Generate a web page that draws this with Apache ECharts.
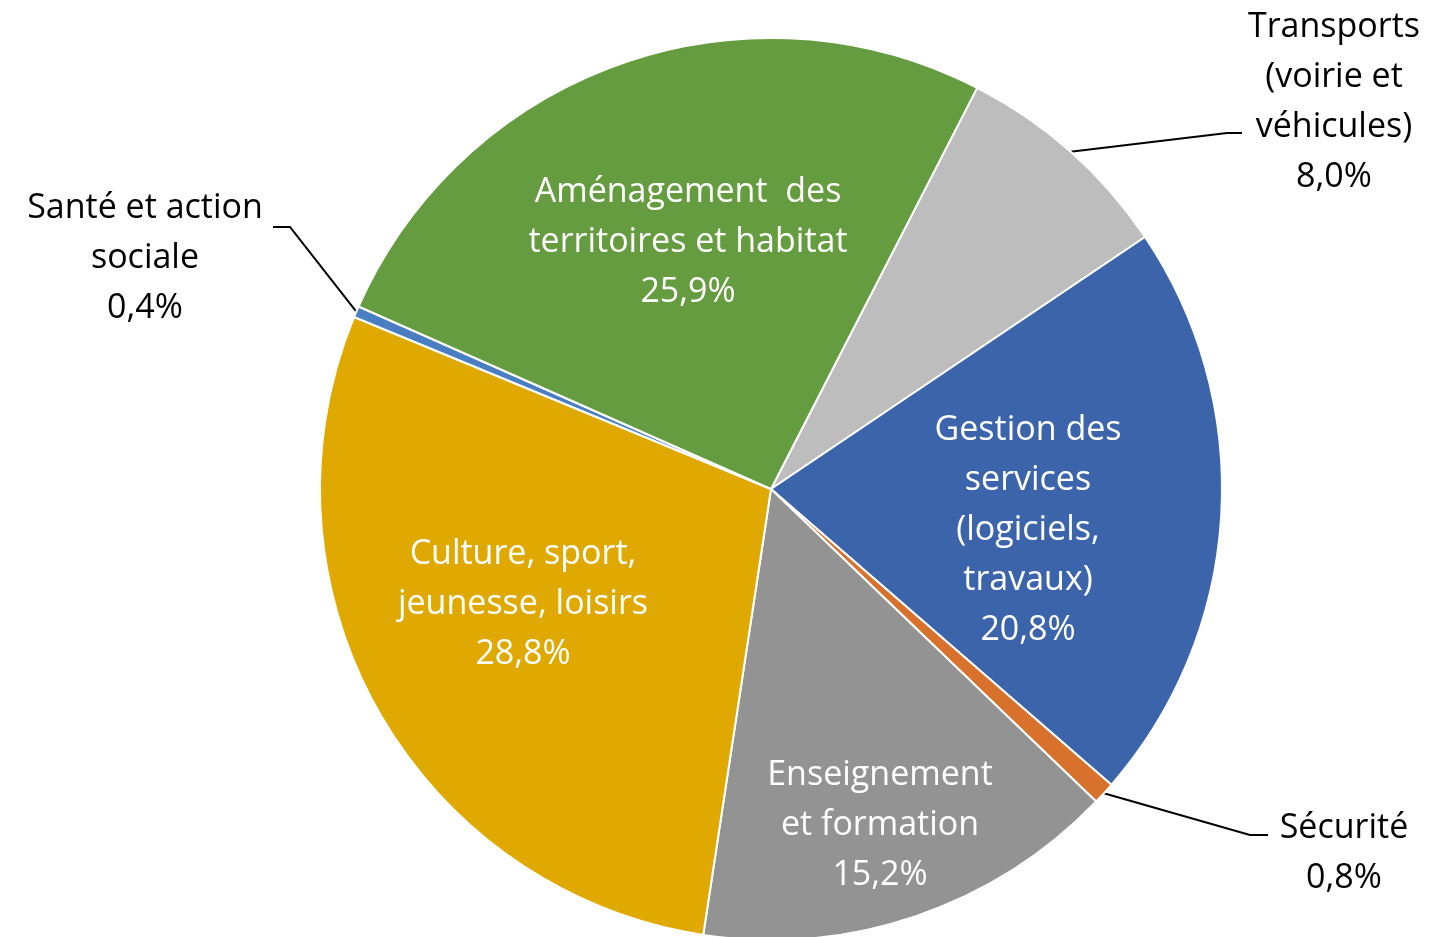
<!DOCTYPE html>
<html>
<head>
<meta charset="utf-8">
<script src="https://cdn.jsdelivr.net/npm/echarts@6/dist/echarts.min.js"></script>
<style>
  html, body { margin: 0; padding: 0; background: #fff; }
  #chart { width: 1432px; height: 937px; }
</style>
</head>
<body>
<div id="chart"></div>
<script>
// données (ordre horaire à partir de Transports)
const categories = [
  'Transports\n(voirie et\nvéhicules)',
  'Gestion des\nservices\n(logiciels,\ntravaux)',
  'Sécurité',
  'Enseignement\net formation',
  'Culture, sport,\njeunesse, loisirs',
  'Santé et action\nsociale',
  'Aménagement  des\nterritoires et habitat'
]
const values = [8.0, 20.8, 0.8, 15.2, 28.8, 0.4, 25.9]
const colors = ['#bdbdbd', '#3c64ab', '#d8712b', '#939393', '#e0a902', '#4a7ec2', '#659c40']
// étiquettes à l'intérieur ou à l'extérieur
const inside = [false, true, false, true, true, false, true]

// mise en page
const cx = 771, cy = 489, R = 451
const startAngle = 62.8
// position des étiquettes (centre du bloc de texte)
const labelPos = [
  [1334, 102], [1028, 530], [1344, 853], [880, 825], [523, 604], [145, 258], [688, 242]
]
// coude et fin des traits de rappel
const leader = {
  0: [[1227, 133], [1242, 133]],
  2: [[1250, 835], [1268, 835]],
  5: [[290, 227], [273, 227]]
}

const total = values.reduce((a, b) => a + b, 0)
function edgePoint(i) {
  let cum = 0
  for (let k = 0; k < i; k++) cum += values[k]
  const a = (startAngle - (cum + values[i] / 2) / total * 360) * Math.PI / 180
  return [cx + R * Math.cos(a), cy - R * Math.sin(a)]
}

const fmt = v => v.toFixed(1).replace('.', ',') + '%'

const data = categories.map((name, i) => ({
  name: name,
  value: values[i],
  itemStyle: { color: colors[i] },
  label: {
    position: inside[i] ? 'inside' : 'outside',
    color: inside[i] ? '#ffffff' : '#000000'
  },
  labelLine: { show: !inside[i] }
}))

const chart = echarts.init(document.getElementById('chart'))
chart.setOption({
  backgroundColor: '#ffffff',
  animation: false,
  series: [{
    type: 'pie',
    center: [cx, cy],
    radius: [0, R],
    startAngle: startAngle,
    clockwise: true,
    avoidLabelOverlap: false,
    data: data,
    itemStyle: { borderColor: '#ffffff', borderWidth: 2 },
    label: {
      fontFamily: 'Open Sans',
      fontSize: 34,
      lineHeight: 50,
      align: 'center',
      formatter: p => p.name + '\n' + fmt(p.value)
    },
    labelLine: {
      lineStyle: { color: '#000000', width: 2 }
    },
    labelLayout: function (params) {
      const i = params.dataIndex
      const out = {
        x: labelPos[i][0],
        y: labelPos[i][1],
        align: 'center',
        verticalAlign: 'middle'
      }
      if (leader[i]) {
        out.labelLinePoints = [edgePoint(i), leader[i][0], leader[i][1]]
      }
      return out
    }
  }]
})
</script>
</body>
</html>
